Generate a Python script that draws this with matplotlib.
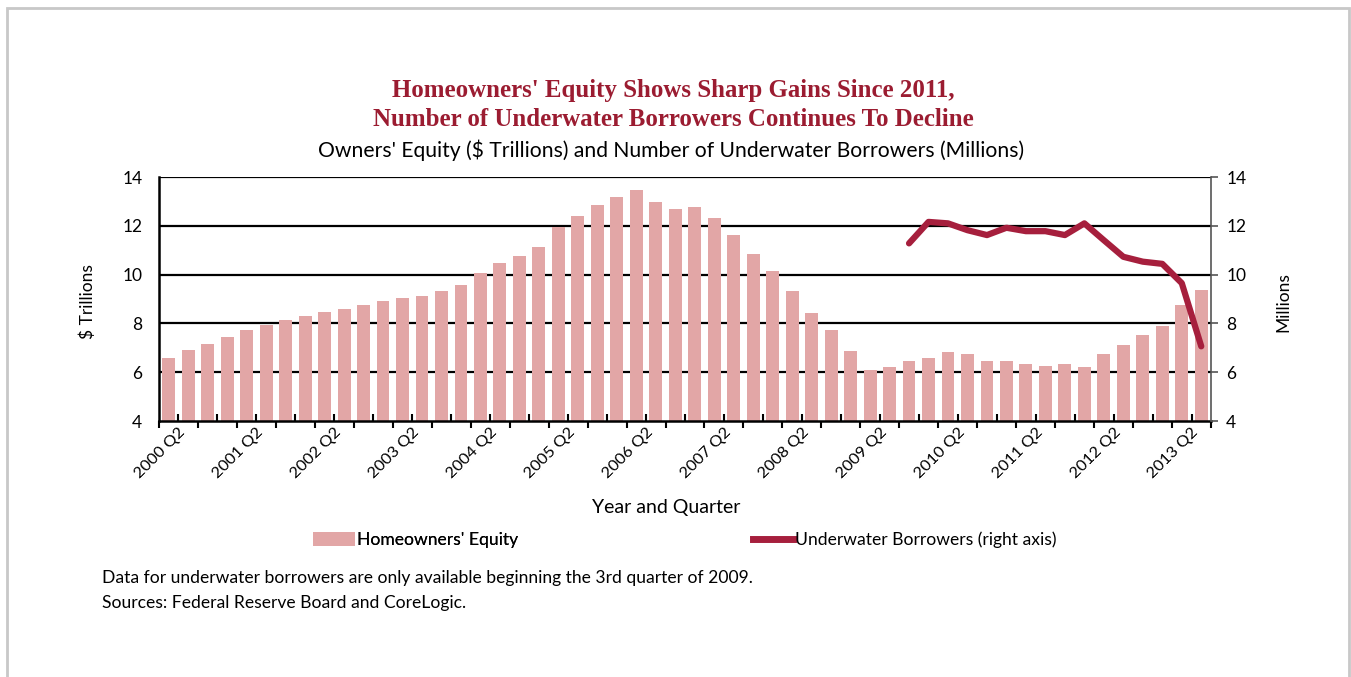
import matplotlib
matplotlib.use("Agg")
import matplotlib.pyplot as plt
from matplotlib.patches import Rectangle
from matplotlib.lines import Line2D
from matplotlib.patches import Patch
import numpy as np

quarters = [f"{y} Q{q}" for y in range(2000, 2014) for q in range(1, 5)][:54]
equity = [6.59, 6.90, 7.14, 7.44, 7.74, 7.95, 8.14, 8.29, 8.45, 8.61,
          8.76, 8.91, 9.06, 9.14, 9.31, 9.59, 10.08, 10.46, 10.76, 11.14,
          11.96, 12.39, 12.86, 13.16, 13.46, 12.99, 12.69, 12.78, 12.30, 11.62,
          10.84, 10.15, 9.31, 8.44, 7.73, 6.88, 6.11, 6.20, 6.44, 6.59,
          6.82, 6.75, 6.44, 6.44, 6.35, 6.27, 6.35, 6.20, 6.75, 7.13,
          7.51, 7.88, 8.76, 9.37]
underwater_quarters = quarters[38:]
underwater = [11.28, 12.16, 12.10, 11.82, 11.62, 11.92, 11.78, 11.78,
              11.62, 12.10, 11.41, 10.73, 10.53, 10.44, 9.65, 7.06]
yticks = [4, 6, 8, 10, 12, 14]

BAR = "#e2a6a6"
LINE = "#a61f3d"
TITLE = "#9b1c31"
FONT = "Lato"

W, H = 1351, 677
fig = plt.figure(figsize=(W / 100, H / 100), dpi=100)
fig.patch.set_facecolor("white")
fig.patches.append(Rectangle((7 / W, -0.05), (1349 - 7) / W, 1.05 - 8 / H,
                             transform=fig.transFigure, fill=False,
                             edgecolor="#c8c8c8", linewidth=2))

ax = fig.add_axes([159 / W, 1 - 421 / H, (1211 - 159) / W, (421 - 177) / H])
x = np.arange(len(quarters))
ax.bar(x, equity, width=0.66, color=BAR, zorder=2)
ax.set_xlim(-0.5, len(quarters) - 0.5)
ax.set_ylim(4, 14)
ax.set_yticks(yticks)
ax.set_yticklabels([str(v) for v in yticks], fontfamily=FONT, fontsize=12.5)
for v in yticks[1:]:
    ax.axhline(v, color="black", linewidth=1.6, zorder=1)
ax.tick_params(axis="y", length=0, pad=12)
for s in ["top", "right"]:
    ax.spines[s].set_visible(False)
ax.spines["left"].set_linewidth(1.8)
ax.spines["bottom"].set_linewidth(1.8)

# category boundary ticks
bounds = np.arange(-0.5, len(quarters) + 0.5, 1.0)
ax.set_xticks(bounds[::2])
ax.set_xticks(bounds[1::2], minor=True)
ax.tick_params(axis="x", which="major", direction="out", length=5, width=1.5, labelbottom=False)
ax.tick_params(axis="x", which="minor", direction="in", length=5, width=1.5)

sec = ax.secondary_xaxis("bottom")
lab_idx = list(range(1, len(quarters), 4))
sec.set_xticks(lab_idx)
sec.set_xticklabels([quarters[i] for i in lab_idx], rotation=45, ha="right", va="bottom",
                    rotation_mode="anchor", fontfamily=FONT, fontsize=11.8)
sec.tick_params(length=0, pad=10)
sec.spines["bottom"].set_visible(False)

fig.text(666 / W, 1 - 507 / H, "Year and Quarter", ha="center", va="center",
         fontfamily=FONT, fontsize=14)
fig.text(88 / W, 1 - 302 / H, "$ Trillions", ha="center", va="center", rotation=90,
         fontfamily=FONT, fontsize=12.5)
fig.text(1283 / W, 1 - 302 / H, "Millions", ha="center", va="center", rotation=90,
         fontfamily=FONT, fontsize=12.5)

ax2 = ax.twinx()
ax2.set_ylim(4, 14)
ax2.set_yticks(yticks)
ax2.set_yticklabels([str(v) for v in yticks], fontfamily=FONT, fontsize=12.5)
ax2.tick_params(axis="y", direction="out", length=5, width=1.2, color="#555555", pad=6)
ax2.plot(np.arange(38, 54), underwater, color=LINE, linewidth=4.5, solid_capstyle="round",
         solid_joinstyle="round", zorder=3)
for s in ["top", "left", "bottom"]:
    ax2.spines[s].set_visible(False)
ax2.spines["right"].set_color("#555555")
ax2.spines["right"].set_linewidth(1.2)
ax2.set_xlim(-0.5, len(quarters) - 0.5)

fig.text(673 / W, 1 - 91 / H, "Homeowners' Equity Shows Sharp Gains Since 2011,",
         ha="center", va="center", fontfamily="Liberation Serif", fontsize=17.9,
         fontweight="bold", color=TITLE)
fig.text(673 / W, 1 - 119 / H, "Number of Underwater Borrowers Continues To Decline",
         ha="center", va="center", fontfamily="Liberation Serif", fontsize=17.9,
         fontweight="bold", color=TITLE)
fig.text(0.5 * (318 + 1025) / W, 1 - 150 / H,
         "Owners' Equity ($ Trillions) and Number of Underwater Borrowers (Millions)",
         ha="center", va="center", fontfamily=FONT, fontsize=15.2, color="black")

leg1 = fig.legend([Patch(facecolor=BAR, edgecolor="none")], ["Homeowners' Equity"],
                  loc="center left", bbox_to_anchor=(306 / W, 1 - 540 / H), frameon=False,
                  prop={"family": FONT, "size": 12.6}, handlelength=2.4, handleheight=0.9,
                  handletextpad=0.1, borderaxespad=0, borderpad=0.4)
leg2 = fig.legend([Line2D([0], [0], color=LINE, linewidth=5)],
                  ["Underwater Borrowers (right axis)"],
                  loc="center left", bbox_to_anchor=(746 / W, 1 - 540 / H), frameon=False,
                  prop={"family": FONT, "size": 12.6}, handlelength=2.3,
                  handletextpad=0.1, borderaxespad=0, borderpad=0.4)
fig.add_artist(leg1)

fig.text(102 / W, 1 - 578 / H,
         "Data for underwater borrowers are only available beginning the 3rd quarter of 2009.",
         ha="left", va="center", fontfamily=FONT, fontsize=12.6)
fig.text(102 / W, 1 - 603 / H, "Sources: Federal Reserve Board and CoreLogic.",
         ha="left", va="center", fontfamily=FONT, fontsize=12.6)

fig.savefig("out.png", dpi=100, facecolor="white")
